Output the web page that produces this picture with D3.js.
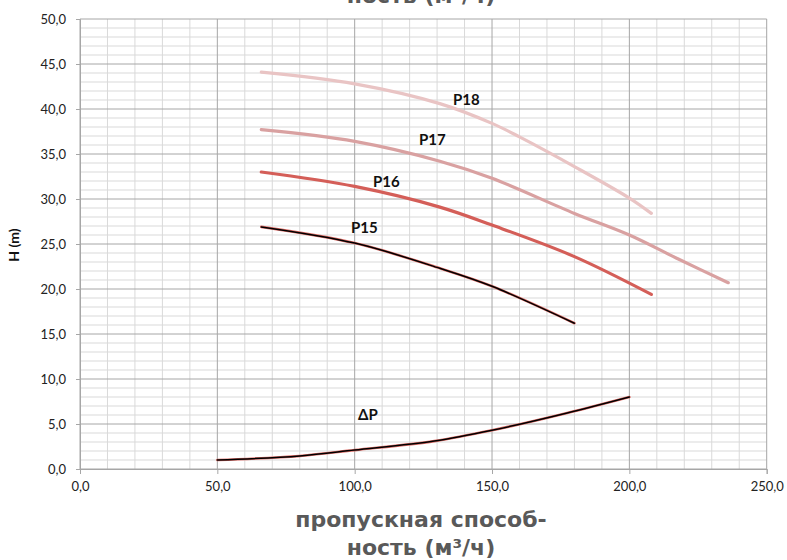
<!DOCTYPE html>
<html>
<head>
<meta charset="utf-8">
<script src="https://cdn.jsdelivr.net/npm/d3@7"></script>
<style>
  html, body { margin: 0; padding: 0; background: #fff; }
  svg { display: block; }
</style>
</head>
<body>
<svg id="chart" width="787" height="560"></svg>
<script>
// Pump curves: head H (m) vs. flow (m³/h)
const p18Flow = [66, 100, 131, 150, 160, 180, 200, 208];
const p18Head = [44.1, 42.8, 40.6, 38.4, 36.9, 33.6, 30.1, 28.4];
const p17Flow = [66, 100, 131, 150, 180, 200, 218, 236];
const p17Head = [37.7, 36.4, 34.2, 32.3, 28.4, 26.0, 23.3, 20.7];
const p16Flow = [66, 100, 131, 150, 180, 208];
const p16Head = [33.0, 31.4, 29.1, 27.1, 23.6, 19.4];
const p15Flow = [66, 100, 131, 150, 180];
const p15Head = [26.9, 25.1, 22.3, 20.3, 16.2];
const dpFlow = [50, 80, 100, 129, 150, 177, 200];
const dpHead = [1.0, 1.45, 2.1, 3.1, 4.3, 6.2, 8.0];

const xTicks = [0, 50, 100, 150, 200, 250];
const yTicks = [0, 5, 10, 15, 20, 25, 30, 35, 40, 45, 50];
const titleLines = ["пропускная способ-", "ность (м³/ч)"];
const yTitle = "H (m)";

const svg = d3.select("#chart");
const plotL = 80, plotR = 766.7, plotT = 19, plotB = 469;

const x = d3.scaleLinear().domain([0, 250]).range([plotL, plotR]);
const y = d3.scaleLinear().domain([0, 50]).range([plotB, plotT]);
const fmt = v => d3.format(".1f")(v).replace(".", ",");

// minor grid
const g = svg.append("g");
g.selectAll(".vminor").data(d3.range(0, 251, 10).filter(v => v % 50))
  .join("line").attr("x1", d => x(d)).attr("x2", d => x(d))
  .attr("y1", plotT).attr("y2", plotB).attr("stroke", "#d9d9d9").attr("stroke-width", 1);
g.selectAll(".hminor").data(d3.range(0, 51, 1).filter(v => v % 5))
  .join("line").attr("y1", d => y(d)).attr("y2", d => y(d))
  .attr("x1", plotL).attr("x2", plotR).attr("stroke", "#d9d9d9").attr("stroke-width", 1);
// major grid
g.selectAll(".vmajor").data(xTicks)
  .join("line").attr("x1", d => x(d)).attr("x2", d => x(d))
  .attr("y1", plotT).attr("y2", plotB).attr("stroke", "#a6a6a6").attr("stroke-width", 1);
g.selectAll(".hmajor").data(yTicks)
  .join("line").attr("y1", d => y(d)).attr("y2", d => y(d))
  .attr("x1", plotL).attr("x2", plotR).attr("stroke", "#a6a6a6").attr("stroke-width", 1);

// axes
const xAxis = svg.append("g").attr("transform", `translate(0,${plotB})`)
  .call(d3.axisBottom(x).tickValues(xTicks).tickFormat(fmt).tickSize(5).tickPadding(8));
const yAxis = svg.append("g").attr("transform", `translate(${plotL},0)`)
  .call(d3.axisLeft(y).tickValues(yTicks).tickFormat(fmt).tickSize(4).tickPadding(10));
[xAxis, yAxis].forEach(a => {
  a.select(".domain").attr("stroke", "#a6a6a6");
  a.selectAll(".tick line").attr("stroke", "#a6a6a6");
  a.selectAll("text").attr("fill", "#222").style("font-family", "Lato, 'Open Sans', sans-serif").style("font-size", "13px");
});

// curves
const line = d3.line().x(d => x(d[0])).y(d => y(d[1])).curve(d3.curveCatmullRom.alpha(0.5));
const pairs = (a, b) => a.map((v, i) => [v, b[i]]);
const curves = [
  { d: pairs(p18Flow, p18Head), c: "#e9c4c4", w: 3.2 },
  { d: pairs(p17Flow, p17Head), c: "#d9a1a1", w: 3.2 },
  { d: pairs(p16Flow, p16Head), c: "#d45e58", w: 3.2 },
  { d: pairs(p15Flow, p15Head), c: "#de6a64", w: 2.6, over: "#000" },
  { d: pairs(dpFlow, dpHead), c: "#de6a64", w: 2.6, over: "#000" }
];
curves.forEach(s => {
  svg.append("path").attr("d", line(s.d)).attr("fill", "none")
    .attr("stroke", s.c).attr("stroke-width", s.w).attr("stroke-linecap", "round");
  if (s.over) {
    svg.append("path").attr("d", line(s.d)).attr("fill", "none")
      .attr("stroke", s.over).attr("stroke-width", 1.5).attr("stroke-linecap", "round");
  }
});

// series labels
const labels = [
  { t: "P18", fx: 453, fy: 105 },
  { t: "P17", fx: 419, fy: 145 },
  { t: "P16", fx: 373, fy: 187 },
  { t: "P15", fx: 351, fy: 233 },
  { t: "ΔP", fx: 358, fy: 420 }
];
svg.selectAll(".lbl").data(labels).join("text")
  .attr("x", d => d.fx).attr("y", d => d.fy)
  .style("font-family", "Lato, 'Open Sans', sans-serif").style("font-weight", 700)
  .style("font-size", "15px").attr("fill", "#111").text(d => d.t);

// titles
const tfont = "'DejaVu Sans', 'Open Sans', sans-serif";
svg.append("text").attr("x", 421).attr("y", 3).attr("text-anchor", "middle")
  .style("font-family", tfont).style("font-weight", 700).style("font-size", "22px")
  .attr("fill", "#595959").text(titleLines[1]);
svg.append("text").attr("x", 421).attr("y", 527).attr("text-anchor", "middle")
  .style("font-family", tfont).style("font-weight", 700).style("font-size", "22px")
  .attr("fill", "#595959").text(titleLines[0]);
svg.append("text").attr("x", 421).attr("y", 555).attr("text-anchor", "middle")
  .style("font-family", tfont).style("font-weight", 700).style("font-size", "22px")
  .attr("fill", "#595959").text(titleLines[1]);
svg.append("text").attr("transform", "translate(19,245) rotate(-90)").attr("text-anchor", "middle")
  .style("font-family", "Lato, 'Open Sans', sans-serif").style("font-weight", 700)
  .style("font-size", "14px").attr("fill", "#111").text(yTitle);
</script>
</body>
</html>
